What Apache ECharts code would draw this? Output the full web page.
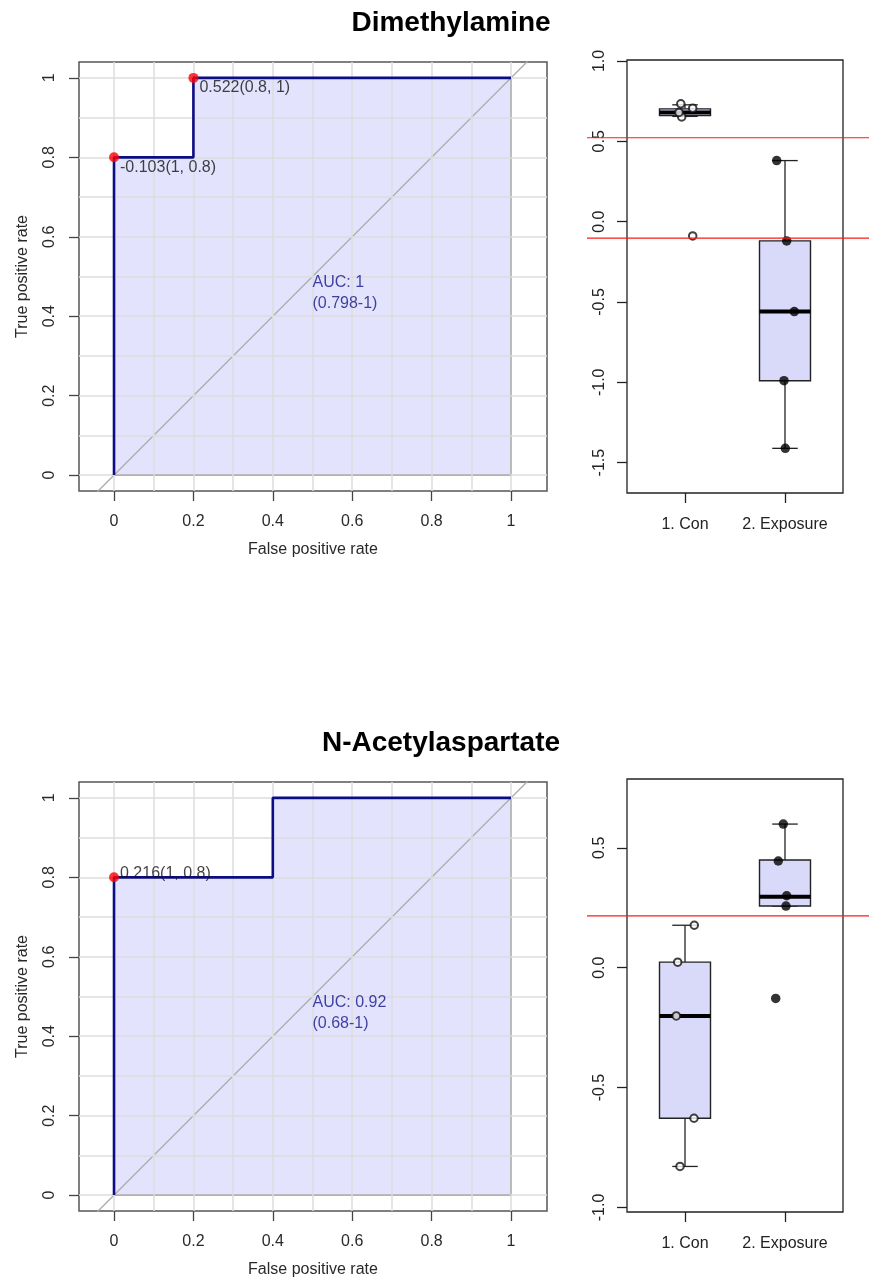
<!DOCTYPE html>
<html>
<head>
<meta charset="UTF-8">
<title>ROC and boxplots</title>
<script src="https://cdn.jsdelivr.net/npm/echarts@6/dist/echarts.min.js"></script>
<style>
    html, body { margin: 0; padding: 0; background: #fff; }
    #main { width: 869px; height: 1283px; }
</style>
</head>
<body>
<div id="main"></div>
<script>
// ---------- data ----------
var titles = ['Dimethylamine', 'N-Acetylaspartate'];
var groupNames = ['1. Con', '2. Exposure'];

// ROC curves: [false positive rate, true positive rate]
var roc1 = [[0, 0], [0, 0.8], [0.2, 0.8], [0.2, 1], [1, 1]];
var roc2 = [[0, 0], [0, 0.8], [0.4, 0.8], [0.4, 1], [1, 1]];
// polygon edge closing the AUC area
var rocEdge = [[1, 1], [1, 0], [0, 0]];
// chance line
var chance = [[-0.2, -0.2], [1.2, 1.2]];

// best thresholds: [fpr, tpr, text]
var thres1 = [[0, 0.8, '-0.103(1, 0.8)'], [0.2, 1, '0.522(0.8, 1)']];
var thres2 = [[0, 0.8, '0.216(1, 0.8)']];
var auc1 = ['AUC: 1', '(0.798-1)'];
var auc2 = ['AUC: 0.92', '(0.68-1)'];
var aucPos = [0.5, 0.5];

// boxplots: [group, low, q1, median, q3, high]
var box1 = [[1, 0.655, 0.660, 0.680, 0.702, 0.727], [2, -1.411, -0.990, -0.560, -0.120, 0.380]];
var box2 = [[1, -0.829, -0.628, -0.201, 0.023, 0.177], [2, 0.257, 0.257, 0.296, 0.449, 0.599]];
// jittered points: [x, value]
var con1 = [[0.958, 0.733], [1.077, 0.706], [0.967, 0.652], [0.94, 0.68], [1.077, -0.089]];
var exp1 = [[1.917, 0.380], [2.017, -0.120], [2.093, -0.560], [1.990, -0.990], [2.003, -1.411]];
var con2 = [[1.093, 0.177], [0.927, 0.023], [0.913, -0.201], [1.090, -0.628], [0.950, -0.829]];
var exp2 = [[1.983, 0.599], [1.933, 0.445], [2.017, 0.300], [2.010, 0.257], [1.907, -0.128]];
// cut-offs drawn in red
var cut1 = [0.522, -0.103];
var cut2 = [0.216];

// ticks
var rocTicks = [0, 0.2, 0.4, 0.6, 0.8, 1];
var rocGrid = [0, 0.1, 0.2, 0.3, 0.4, 0.5, 0.6, 0.7, 0.8, 0.9, 1];
var boxTicks1 = [-1.5, -1, -0.5, 0, 0.5, 1];
var boxTicks2 = [-1, -0.5, 0, 0.5];
var groupTicks = [1, 2];
// ----------------------------------------------

var FONT = 'Liberation Sans, Arial, sans-serif';
var NAVY = '#0c0c86';
var LAV = '#d9d9fa';

var chart = echarts.init(document.getElementById('main'), null, {renderer: 'canvas'});

var option = {
    animation: false,
    backgroundColor: '#fff',
    textStyle: {fontFamily: FONT},
    title: [], grid: [], xAxis: [], yAxis: [], series: []
};

function renderBox(params, api) {
    var x = api.value(0);
    var low = api.coord([x, api.value(1)]);
    var q1 = api.coord([x, api.value(2)]);
    var med = api.coord([x, api.value(3)]);
    var q3 = api.coord([x, api.value(4)]);
    var high = api.coord([x, api.value(5)]);
    var hw = api.size([0.255, 0])[0];
    var cw = hw / 2;
    var cx = q1[0];
    var st = {stroke: '#222', lineWidth: 1.3};
    return {
        type: 'group',
        children: [
            {type: 'line', shape: {x1: cx, y1: high[1], x2: cx, y2: q3[1]}, style: st},
            {type: 'line', shape: {x1: cx, y1: q1[1], x2: cx, y2: low[1]}, style: st},
            {type: 'line', shape: {x1: cx - cw, y1: high[1], x2: cx + cw, y2: high[1]}, style: st},
            {type: 'line', shape: {x1: cx - cw, y1: low[1], x2: cx + cw, y2: low[1]}, style: st},
            {type: 'rect', shape: {x: cx - hw, y: q3[1], width: 2 * hw, height: q1[1] - q3[1]},
                style: {fill: LAV, stroke: '#222', lineWidth: 1.4}},
            {type: 'line', shape: {x1: cx - hw, y1: med[1], x2: cx + hw, y2: med[1]},
                style: {stroke: '#000', lineWidth: 4}}
        ]
    };
}

function addPanel(p) {
    var g = option.grid.length;
    var oy = p.oy;

    option.title.push({
        text: p.title, left: p.titleX, top: 9 + oy, textAlign: 'center', padding: 0,
        textStyle: {fontSize: 28, fontWeight: 'bold', color: '#000', fontFamily: FONT}
    });

    // ROC panel
    option.grid.push({left: 79, top: 62 + oy, width: 468, height: 429, show: true,
        borderColor: '#555', borderWidth: 1.5, backgroundColor: 'transparent'});
    option.xAxis.push({
        gridIndex: g, type: 'value', min: -0.0882, max: 1.0907,
        axisLine: {show: false, onZero: false}, splitLine: {show: false},
        axisTick: {show: true, length: 10, customValues: rocTicks, lineStyle: {color: '#444', width: 1.3}},
        axisLabel: {customValues: rocTicks, color: '#2a2a2a', fontSize: 16, margin: 23},
        name: 'False positive rate', nameLocation: 'middle', nameGap: 51,
        nameTextStyle: {color: '#2a2a2a', fontSize: 16}
    });
    option.yAxis.push({
        gridIndex: g, type: 'value', min: -0.04, max: 1.04,
        axisLine: {show: false, onZero: false}, splitLine: {show: false},
        axisTick: {show: true, length: 10, customValues: rocTicks, lineStyle: {color: '#444', width: 1.3}},
        axisLabel: {customValues: rocTicks, color: '#2a2a2a', fontSize: 16, margin: 21, rotate: 90},
        name: 'True positive rate', nameLocation: 'middle', nameGap: 48,
        nameTextStyle: {color: '#2a2a2a', fontSize: 16}
    });

    // grid lines
    option.series.push({
        type: 'line', xAxisIndex: g, yAxisIndex: g, data: [], z: 1, silent: true,
        markLine: {
            silent: true, symbol: ['none', 'none'], label: {show: false},
            lineStyle: {color: '#dddddd', width: 1.5, type: 'solid'},
            data: rocGrid.map(function (v) { return {xAxis: v}; })
                .concat(rocGrid.map(function (v) { return {yAxis: v}; }))
        }
    });
    // AUC area
    option.series.push({
        type: 'line', xAxisIndex: g, yAxisIndex: g, data: p.roc, z: 2, silent: true,
        symbol: 'none', lineStyle: {width: 0},
        areaStyle: {color: 'rgba(0,0,235,0.155)', origin: 'auto'}
    });
    // chance line
    option.series.push({
        type: 'line', xAxisIndex: g, yAxisIndex: g, data: chance, z: 3, silent: true,
        symbol: 'none', lineStyle: {color: '#aaaaaa', width: 1.3}
    });
    // polygon border
    option.series.push({
        type: 'line', xAxisIndex: g, yAxisIndex: g, data: rocEdge, z: 4, silent: true,
        symbol: 'none', lineStyle: {color: '#333', width: 1.6}
    });
    // ROC curve
    option.series.push({
        type: 'line', xAxisIndex: g, yAxisIndex: g, data: p.roc, z: 5, silent: true,
        symbol: 'none', lineStyle: {color: NAVY, width: 2.6}
    });
    // thresholds
    option.series.push({
        type: 'scatter', xAxisIndex: g, yAxisIndex: g, data: p.thres, z: 6, silent: true,
        symbolSize: 10, itemStyle: {color: '#ff0000'},
        label: {
            show: true, position: 'inside', align: 'left', verticalAlign: 'middle',
            offset: p.thresOffset, color: '#111', fontSize: 16,
            formatter: function (d) { return d.data[2]; }
        }
    });
    // AUC text
    option.series.push({
        type: 'scatter', xAxisIndex: g, yAxisIndex: g, data: [aucPos], z: 6, silent: true,
        symbolSize: 0,
        label: {
            show: true, position: 'inside', align: 'left', verticalAlign: 'top',
            offset: [0, -4], color: '#141488', fontSize: 16, lineHeight: 21,
            formatter: p.auc.join('\n')
        }
    });

    // boxplot panel
    var b = g + 1;
    option.grid.push({left: 627, top: p.boxTop, width: 216, height: p.boxH, show: true,
        borderColor: '#222', borderWidth: 1.3, backgroundColor: 'transparent'});
    option.xAxis.push({
        gridIndex: b, type: 'value', min: 0.42, max: 2.58,
        axisLine: {show: false, onZero: false}, splitLine: {show: false},
        axisTick: {show: true, length: 10, customValues: groupTicks, lineStyle: {color: '#222', width: 1.3}},
        axisLabel: {customValues: groupTicks, color: '#222', fontSize: 16, margin: 24,
            formatter: function (v) { return groupNames[Math.round(v) - 1]; }}
    });
    option.yAxis.push({
        gridIndex: b, type: 'value', min: p.boxMin, max: p.boxMax,
        axisLine: {show: false, onZero: false}, splitLine: {show: false},
        axisTick: {show: true, length: 10, customValues: p.boxTicks, lineStyle: {color: '#222', width: 1.3}},
        axisLabel: {customValues: p.boxTicks, color: '#222', fontSize: 16, margin: 19, rotate: 90,
            formatter: function (v) { return v.toFixed(1); }}
    });
    option.series.push({
        type: 'custom', xAxisIndex: b, yAxisIndex: b, data: p.box, z: 2, silent: true,
        renderItem: renderBox, encode: {x: 0, y: [1, 2, 3, 4, 5]}
    });
    option.series.push({
        type: 'scatter', xAxisIndex: b, yAxisIndex: b, data: p.con, z: 3, silent: true,
        symbol: 'emptyCircle', symbolSize: 7.5,
        itemStyle: {color: '#111', borderWidth: 1.2}
    });
    option.series.push({
        type: 'scatter', xAxisIndex: b, yAxisIndex: b, data: p.exp, z: 3, silent: true,
        symbolSize: 9.5, itemStyle: {color: '#000'}
    });

    // red cut-off lines running past the box
    var r = g + 2;
    option.grid.push({left: 587, top: p.boxTop, right: 0, height: p.boxH, show: false});
    option.xAxis.push({gridIndex: r, type: 'value', min: 0, max: 1, show: false});
    option.yAxis.push({gridIndex: r, type: 'value', min: p.boxMin, max: p.boxMax, show: false});
    p.cuts.forEach(function (c) {
        option.series.push({
            type: 'line', xAxisIndex: r, yAxisIndex: r, data: [[0, c], [1, c]], z: 8, silent: true,
            symbol: 'none', lineStyle: {color: '#ff1a1a', width: 1.2}
        });
    });
}

addPanel({
    oy: 0, title: titles[0], titleX: 451,
    roc: roc1, thres: thres1, thresOffset: [6, 10], auc: auc1,
    boxTop: 60, boxH: 433, boxMin: -1.689, boxMax: 1.006, boxTicks: boxTicks1,
    box: box1, con: con1, exp: exp1, cuts: cut1
});
addPanel({
    oy: 720, title: titles[1], titleX: 441,
    roc: roc2, thres: thres2, thresOffset: [6, -4], auc: auc2,
    boxTop: 779, boxH: 433, boxMin: -1.019, boxMax: 0.787, boxTicks: boxTicks2,
    box: box2, con: con2, exp: exp2, cuts: cut2
});

chart.setOption(option);
</script>
</body>
</html>
